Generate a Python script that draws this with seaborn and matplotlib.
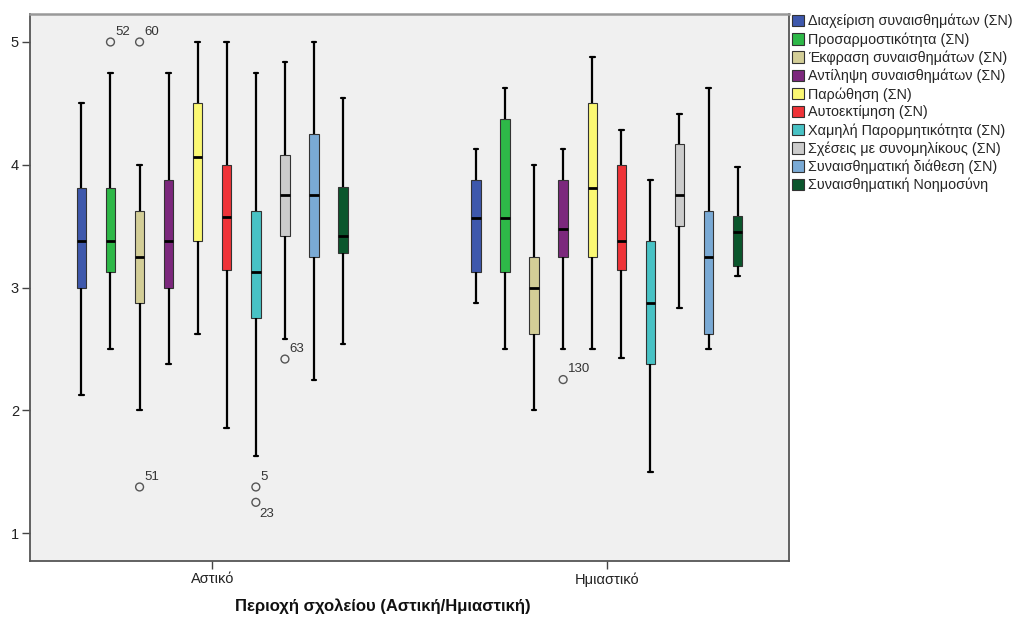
import numpy as np
import pandas as pd
import matplotlib
matplotlib.use("Agg")
import matplotlib.pyplot as plt
import seaborn as sns

# Categories
regions = ["Αστικό", "Ημιαστικό"]
scales = [
    "Διαχείριση συναισθημάτων (ΣΝ)",
    "Προσαρμοστικότητα (ΣΝ)",
    "Έκφραση συναισθημάτων (ΣΝ)",
    "Αντίληψη συναισθημάτων (ΣΝ)",
    "Παρώθηση (ΣΝ)",
    "Αυτοεκτίμηση (ΣΝ)",
    "Χαμηλή Παρορμητικότητα (ΣΝ)",
    "Σχέσεις με συνομηλίκους (ΣΝ)",
    "Συναισθηματική διάθεση (ΣΝ)",
    "Συναισθηματική Νοημοσύνη",
]
colors = ["#3E58AC", "#2EB848", "#D3CE97", "#7C287D", "#FBF873",
          "#EF3338", "#48C2C5", "#CCCCCC", "#7AAAD5", "#0A562C"]

# Five-number summaries per scale (urban schools)
urban_low = [2.125, 2.5, 2.0, 2.375, 2.625, 1.857, 1.625, 2.583, 2.25, 2.54]
urban_q1 = [3.0, 3.125, 2.875, 3.0, 3.375, 3.143, 2.75, 3.417, 3.25, 3.28]
urban_med = [3.375, 3.375, 3.25, 3.375, 4.0625, 3.571, 3.125, 3.75, 3.75, 3.42]
urban_q3 = [3.8125, 3.8125, 3.625, 3.875, 4.5, 4.0, 3.625, 4.083, 4.25, 3.82]
urban_high = [4.5, 4.75, 4.0, 4.75, 5.0, 5.0, 4.75, 4.833, 5.0, 4.54]

# Five-number summaries per scale (semi-urban schools)
semi_low = [2.875, 2.5, 2.0, 2.5, 2.5, 2.429, 1.5, 2.833, 2.5, 3.09]
semi_q1 = [3.125, 3.125, 2.625, 3.25, 3.25, 3.143, 2.375, 3.5, 2.625, 3.175]
semi_med = [3.5625, 3.5625, 3.0, 3.475, 3.8125, 3.381, 2.875, 3.75, 3.25, 3.455]
semi_q3 = [3.875, 4.375, 3.25, 3.875, 4.5, 4.0, 3.375, 4.167, 3.625, 3.585]
semi_high = [4.125, 4.625, 4.0, 4.125, 4.875, 4.286, 3.875, 4.417, 4.625, 3.98]

# Outlying cases: region, scale index, value, case number
outlier_region = ["Αστικό", "Αστικό", "Αστικό", "Αστικό", "Αστικό", "Αστικό", "Ημιαστικό"]
outlier_scale = [1, 2, 2, 6, 6, 7, 3]
outlier_value = [5.0, 5.0, 1.375, 1.375, 1.25, 2.417, 2.25]
outlier_case = ["52", "60", "51", "5", "23", "63", "130"]

rows = []
for region, stats in zip(regions, [
        (urban_low, urban_q1, urban_med, urban_q3, urban_high),
        (semi_low, semi_q1, semi_med, semi_q3, semi_high)]):
    for i, scale in enumerate(scales):
        for arr in stats:
            rows.append({"region": region, "scale": scale, "value": arr[i]})
df = pd.DataFrame(rows)

sns.set_style("ticks")
plt.rcParams["font.family"] = ["Liberation Sans", "DejaVu Sans"]

fig = plt.figure(figsize=(10.16, 6.18), dpi=100)
ax = fig.add_axes([30 / 1016, 1 - 561 / 618, (789 - 30) / 1016, (561 - 14) / 618])
ax.set_facecolor("#F0F0F0")

box_width = 0.737
sns.boxplot(
    data=df, x="region", y="value", hue="scale",
    order=regions, hue_order=scales, palette=colors,
    width=box_width, gap=0.68, whis=(0, 100), saturation=1,
    linecolor="#333333", linewidth=0.8,
    medianprops={"color": "black", "linewidth": 2.0},
    whiskerprops={"color": "black", "linewidth": 1.6},
    capprops={"color": "black", "linewidth": 1.6},
    legend=True, ax=ax,
)

# Outlying cases, placed at the dodged position of their box
n = len(scales)
for reg, si, val, case in zip(outlier_region, outlier_scale, outlier_value, outlier_case):
    xpos = regions.index(reg) + box_width / n * (si + 0.5) - box_width / 2
    ax.scatter([xpos], [val], s=32, facecolors="none", edgecolors="#555555",
               linewidths=1.0, zorder=5)
    if case == "23":
        ax.annotate(case, (xpos, val), xytext=(2.5, -4), textcoords="offset points",
                    ha="left", va="top", fontsize=9.5, color="#333333")
    else:
        ax.annotate(case, (xpos, val), xytext=(3.5, 3), textcoords="offset points",
                    ha="left", va="bottom", fontsize=9.5, color="#333333")

ax.set_xlim(-0.462, 1.462)
ax.set_ylim(0.772, 5.228)
ax.set_yticks([1, 2, 3, 4, 5])
ax.set_yticklabels(["1", "2", "3", "4", "5"])
ax.tick_params(axis="both", direction="out", length=6, width=1.0, color="#444444",
               labelsize=10.5, labelcolor="#222222", pad=2)
ax.set_ylabel("")
ax.set_xlabel("Περιοχή σχολείου (Αστική/Ημιαστική)", fontsize=12,
              fontweight="bold", color="#111111")
ax.xaxis.set_label_coords((383 - 30) / 759, -0.068)
ax.xaxis.label.set_verticalalignment("top")

for side in ["left", "right", "bottom"]:
    ax.spines[side].set_visible(True)
    ax.spines[side].set_color("#555555")
    ax.spines[side].set_linewidth(1.3)
ax.spines["top"].set_visible(True)
ax.spines["top"].set_color("#999999")
ax.spines["top"].set_linewidth(1.8)

handles, labels = ax.get_legend_handles_labels()
ax.legend(handles, labels, loc="upper left", bbox_to_anchor=(1.004, 1.0),
          frameon=False, fontsize=10.4, handlelength=0.85, handleheight=0.85,
          handletextpad=0.25, labelspacing=0.26, borderaxespad=0, borderpad=0)

fig.savefig("out.png", dpi=100, facecolor="white")
